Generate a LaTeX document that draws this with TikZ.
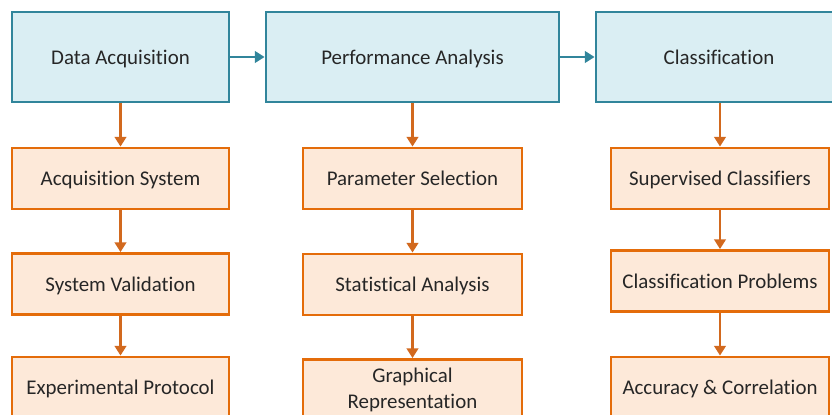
\documentclass[tikz,border=0pt]{standalone}
\usepackage{fontspec}
\setmainfont{Carlito}[Ligatures=NoCommon]
\usetikzlibrary{arrows.meta}
\usetikzlibrary{calc}

\definecolor{stageline}{RGB}{49,133,155}
\definecolor{stagefill}{RGB}{218,238,243}
\definecolor{stepline}{RGB}{228,108,10}
\definecolor{stepfill}{RGB}{253,233,217}
\definecolor{steparrow}{RGB}{210,105,30}
\definecolor{textgray}{RGB}{38,38,38}

\begin{document}
\begin{tikzpicture}[x=0.02cm, y=-0.02cm]

% Define styles
\tikzset{
    stage/.style={draw=stageline, fill=stagefill, line width=1.6pt, minimum height=90*0.02cm,
        text=textgray, font=\fontsize{11.9}{15}\selectfont, inner sep=0pt,
        text height=0.9em, text depth=0.05em},
    stepbase/.style={draw=stepline, fill=stepfill, line width=1.6pt, minimum width=217*0.02cm,
        minimum height=61*0.02cm, text=textgray, font=\fontsize{11.9}{15}\selectfont,
        align=center, inner sep=0pt},
    stepbox/.style={stepbase, text height=0.9em, text depth=0.05em},
    flow/.style={draw=stageline, line width=1.6pt, -{Triangle[width=6.5pt,length=5.5pt]}},
    down/.style={draw=steparrow, line width=1.6pt, -{Triangle[width=6.5pt,length=5.5pt]}}
}

% nur der sichtbare Ausschnitt
\useasboundingbox (0,0) rectangle (832,415);
\clip (0,0) rectangle (832,415);

% grid lines
%\draw[help lines, dashed] (0,0) grid[step=50] (832,415);

% top row
\node[stage, minimum width=217*0.02cm] (DA) at (120.5,57) {Data Acquisition};
\node[stage, minimum width=293*0.02cm] (PA) at (412.5,57) {Performance Analysis};
\node[stage, minimum width=246*0.02cm] (CL) at (719,57) {Classification};

% first column
\node[stepbox] (AS) at (120.5,178.5) {Acquisition System};
\node[stepbox] (SV) at (120.5,284) {System Validation};
\node[stepbox] (EP) at (120.5,387.5) {Experimental Protocol};

% second column
\node[stepbox, minimum width=219*0.02cm] (PS) at (412.5,178.5) {Parameter Selection};
\node[stepbox, minimum width=219*0.02cm] (SA) at (412.5,284.5) {Statistical Analysis};
\node[stepbase, minimum width=219*0.02cm] (GR) at (412.5,390) {Graphical\\Representation};

% third column
\node[stepbox, minimum width=218*0.02cm] (SC) at (720,178.5) {Supervised Classifiers};
\node[stepbox, minimum width=218*0.02cm] (CP) at (720,281) {Classification Problems};
\node[stepbox, minimum width=218*0.02cm] (AC) at (720,387.5) {Accuracy \& Correlation};


% arrows between stages
\draw[flow] (DA.east) -- (PA.west);
\draw[flow] (PA.east) -- (CL.west);

% arrows down the columns
\draw[down] (DA.south) -- (AS.north);
\draw[down] (AS.south) -- (SV.north);
\draw[down] (SV.south) -- (EP.north);

\draw[down] (PA.south) -- (PS.north);
\draw[down] (PS.south) -- (SA.north);
\draw[down] (SA.south) -- (GR.north);

\draw[down] (CL.south -| SC.north) -- (SC.north);
\draw[down] (SC.south) -- (CP.north);
\draw[down] (CP.south) -- (AC.north);

\end{tikzpicture}
\end{document}
